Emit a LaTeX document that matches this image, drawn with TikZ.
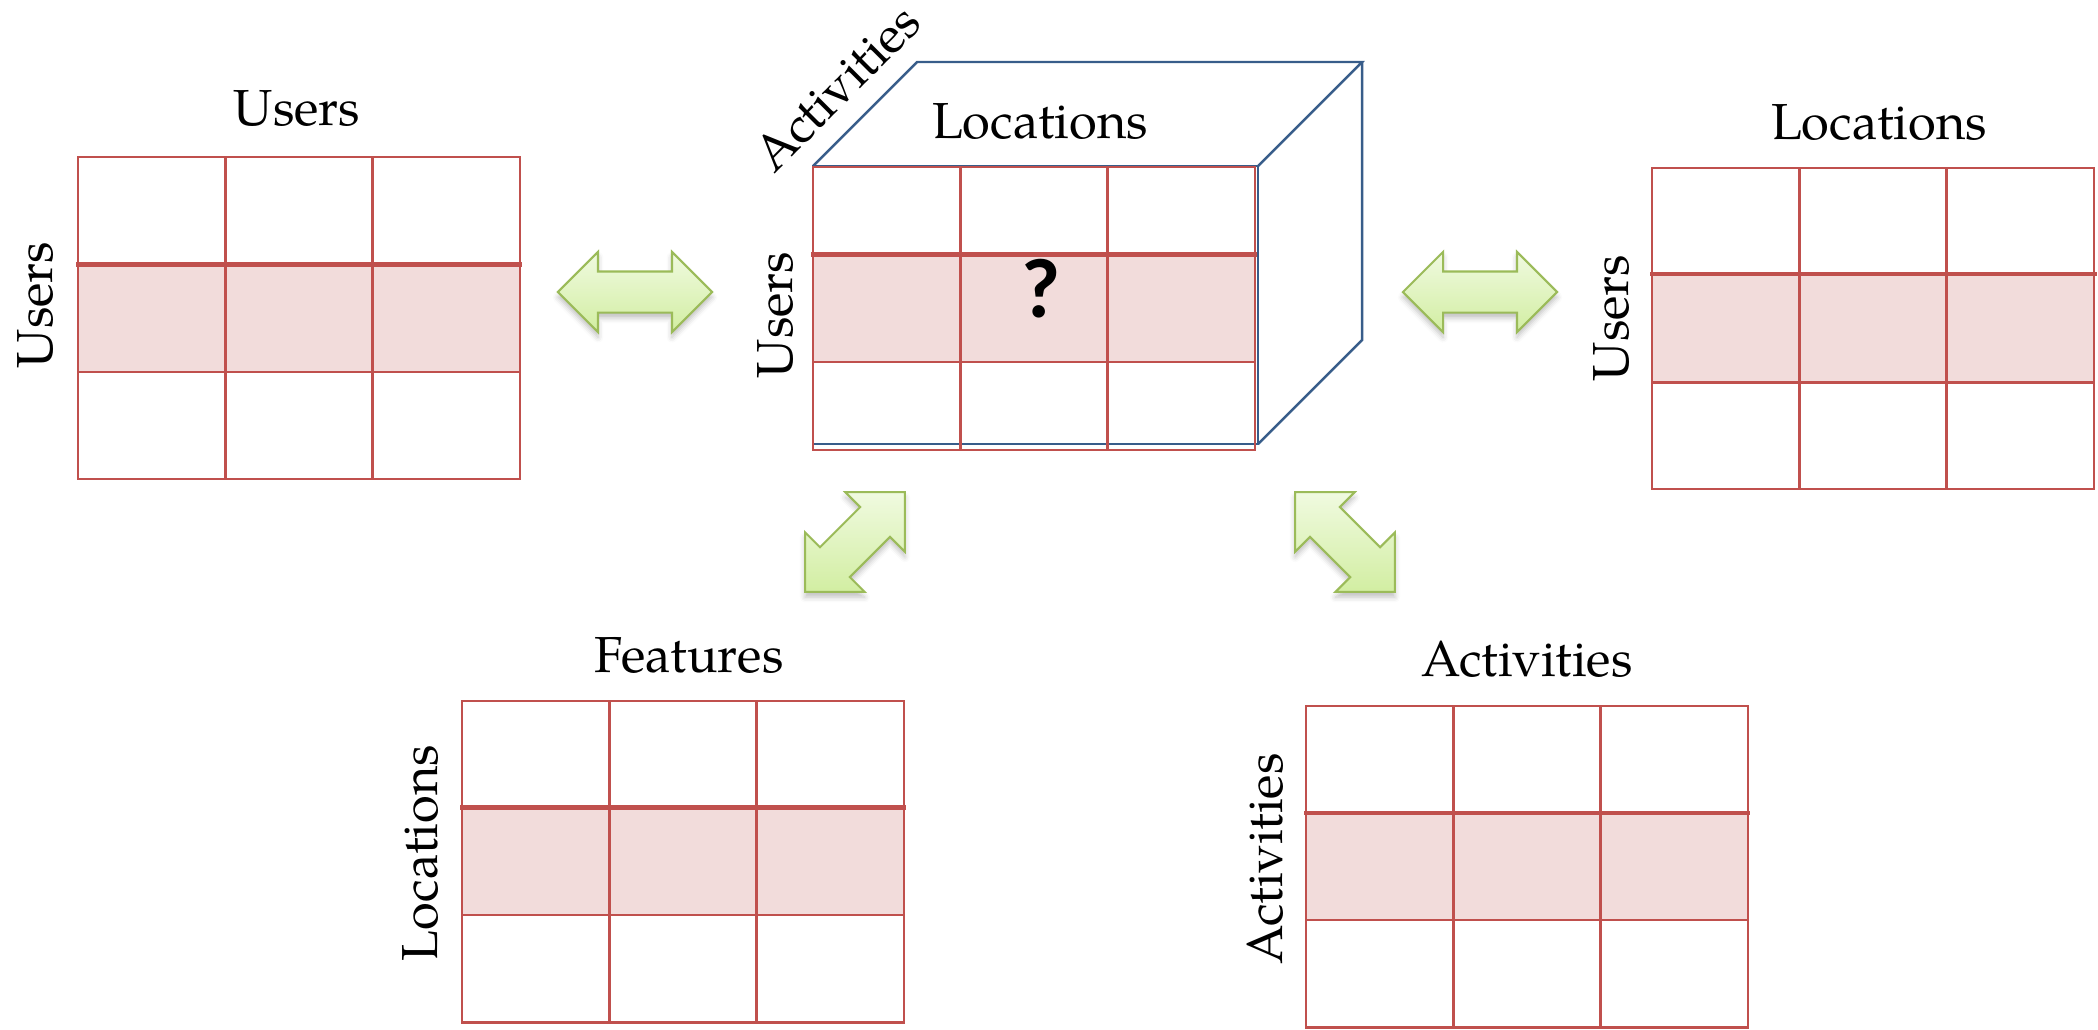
\documentclass[tikz,border=0pt]{standalone}
\usepackage{fontspec}
\setmainfont{TeX Gyre Pagella}
\newfontfamily\qmark{Carlito}
\usetikzlibrary{shapes.arrows, shadows.blur}

\definecolor{cellred}{HTML}{C0504D}
\definecolor{rowpink}{HTML}{F2DCDB}
\definecolor{cubeblue}{HTML}{385D8A}
\definecolor{arrowline}{HTML}{9BBB59}
\definecolor{arrowtop}{HTML}{F0FAE0}
\definecolor{arrowbot}{HTML}{D2EEA2}

\tikzset{
  cell/.style={draw=cellred, line width=0.75pt, line cap=rect},
  seam/.style={draw=cellred, line width=1.4pt, line cap=rect},
  edge3d/.style={draw=cubeblue, line width=0.7pt, line join=miter},
  lbl/.style={font=\fontsize{14.4}{17}\selectfont, inner sep=0pt, anchor=base},
  sidelbl/.style={lbl, rotate=90},
  link/.style={
    double arrow,
    draw=arrowline,
    line width=0.6pt,
    top color=arrowtop,
    bottom color=arrowbot,
    inner xsep=0pt,
    inner ysep=0.195cm,
    double arrow head extend=0.195cm,
    minimum height=1.54cm,
    blur shadow={shadow xshift=0pt, shadow yshift=-1.5pt,
      shadow blur radius=1.5pt, shadow opacity=25}
  },
  dlink/.style={link, minimum height=1.41cm, inner ysep=0.2cm,
    double arrow head extend=0.21cm}
}

% 3x3 matrix: top-left corner, then the three row heights
\newcommand{\matgrid}[5]{%
  \fill[rowpink] (#1,#2+#3) rectangle ++(442,#4);
  \foreach \col in {0,1,2,3}
    \draw[cell] (#1+147.33*\col,#2) -- ++(0,#3+#4+#5);
  \draw[cell] (#1,#2) -- ++(442,0);
  \draw[cell] (#1,#2+#3+#4) -- ++(442,0);
  \draw[cell] (#1,#2+#3+#4+#5) -- ++(442,0);
  \draw[seam] (#1,#2+#3) -- ++(442,0);
}

\begin{document}
\begin{tikzpicture}[x=0.01cm, y=-0.01cm]
  \useasboundingbox (0,0) rectangle (2098,1029);

  % users x users
  \matgrid{78}{157}{107.5}{107.5}{107}
  \node[lbl] (uuTop) at (297,125) {Users};
  \node[sidelbl] (uuSide) at (52,305) {Users};

  % the tensor: blue box behind the front slice
  \draw[edge3d] (813,166) rectangle (1258,444);
  \draw[edge3d] (813,166) -- (917,62) -- (1362,62) -- (1258,166);
  \draw[edge3d] (1362,62) -- (1362,340) -- (1258,444);
  \matgrid{813}{167}{87.5}{107.5}{88}
  \node[lbl] (cubeTop) at (1040,138) {Locations};
  \node[lbl, rotate=45] (cubeDepth) at (849,100) {Activities};
  \node[sidelbl] (cubeSide) at (792,315) {Users};
  \node[font=\qmark\bfseries\fontsize{24}{28}\selectfont, inner sep=0pt,
    anchor=base] (unknown) at (1041,317) {?};

  % users x locations
  \matgrid{1652}{168}{106}{108.5}{106.5}
  \node[lbl] (ulTop) at (1879,139) {Locations};
  \node[sidelbl] (ulSide) at (1628,318) {Users};

  % locations x features
  \matgrid{462}{701}{106.5}{107.5}{107.5}
  \node[lbl] (lfTop) at (689,672) {Features};
  \node[sidelbl] (lfSide) at (437,853) {Locations};

  % activities x activities
  \matgrid{1306}{706}{107}{107}{107.5}
  \node[lbl] (aaTop) at (1527,676) {Activities};
  \node[sidelbl] (aaSide) at (1282,859) {Activities};

  % coupling arrows
  \node[link] (uuCube) at (635,292) {};
  \node[link] (cubeUl) at (1480,292) {};
  \node[dlink, rotate=45] (cubeLf) at (855,542) {};
  \node[dlink, rotate=-45] (cubeAa) at (1345,542) {};
\end{tikzpicture}
\end{document}
